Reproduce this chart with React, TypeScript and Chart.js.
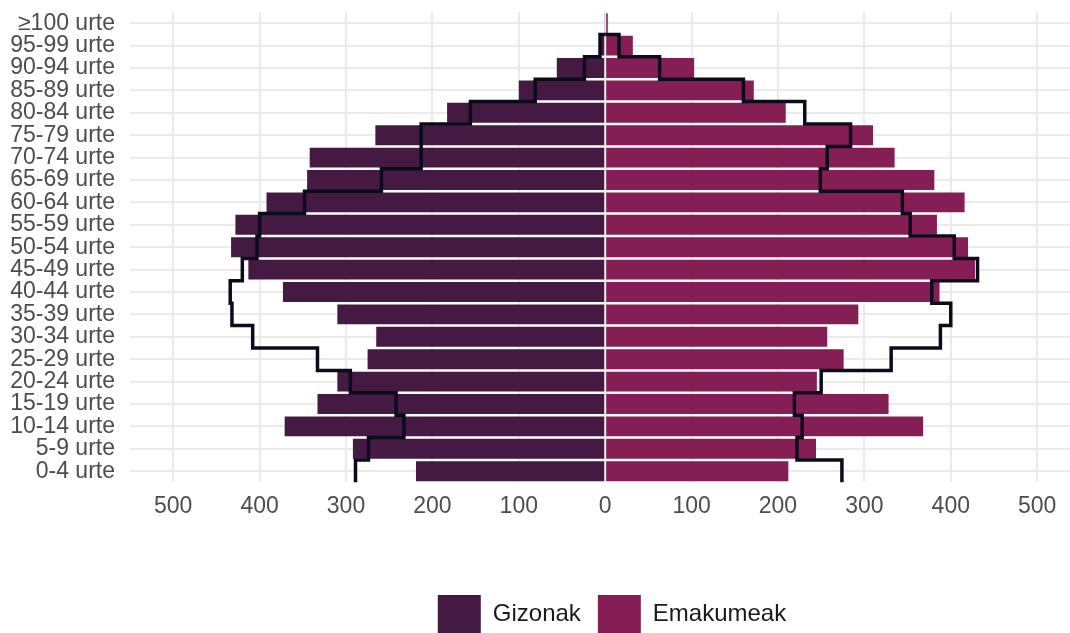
import React, { useEffect, useRef } from "react";
import { Chart, registerables } from "chart.js";

Chart.register(...registerables);

// Age groups, bottom to top
const ageGroups = [
  "0-4 urte", "5-9 urte", "10-14 urte", "15-19 urte", "20-24 urte",
  "25-29 urte", "30-34 urte", "35-39 urte", "40-44 urte", "45-49 urte",
  "50-54 urte", "55-59 urte", "60-64 urte", "65-69 urte", "70-74 urte",
  "75-79 urte", "80-84 urte", "85-89 urte", "90-94 urte", "95-99 urte",
  "≥100 urte",
];

// Current population (bars)
const men = [219, 292, 371, 333, 310, 275, 265, 310, 373, 413, 433, 428, 392, 345, 342, 266, 183, 100, 56, 7, 1];
const women = [212, 244, 368, 328, 245, 276, 257, 293, 387, 428, 420, 384, 416, 381, 335, 310, 209, 172, 103, 32, 3];

// Reference population (black step outline)
const menOutline: (number | null)[] = [289, 274, 233, 242, 295, 333, 408, 432, 434, 420, 403, 400, 348, 259, 213, 213, 156, 81, 24, 6, null];
const womenOutline: (number | null)[] = [274, 222, 228, 219, 250, 331, 388, 400, 378, 431, 404, 353, 344, 249, 257, 284, 231, 160, 63, 16, null];

// Axis ticks
const xTicks = [-500, -400, -300, -200, -100, 0, 100, 200, 300, 400, 500];

const MEN_COLOR = "#451a42";
const WOMEN_COLOR = "#861e56";
const OUTLINE_COLOR = "#0b0b1c";
const GRID_COLOR = "#ebebeb";
const TICK_COLOR = "#4d4d4d";
const FONT_FAMILY = "'Liberation Sans', Arial, sans-serif";

function stepPoints(values: (number | null)[], sign: number) {
  const pts: { x: number; y: number }[] = [];
  let last = -1;
  values.forEach((v, i) => {
    if (v == null) return;
    pts.push({ x: sign * v, y: i - 0.5 }, { x: sign * v, y: i + 0.5 });
    last = i;
  });
  if (last >= 0) pts.push({ x: 0, y: last + 0.5 });
  return pts;
}

const legendShift = {
  id: "legendShift",
  afterLayout(chart: any) {
    if (chart.legend) {
      chart.legend.left += 12;
      chart.legend.right += 12;
    }
  },
};

export default function App() {
  const ref = useRef<HTMLCanvasElement | null>(null);

  useEffect(() => {
    if (!ref.current) return;
    const outlineStyle = {
      borderColor: OUTLINE_COLOR,
      backgroundColor: OUTLINE_COLOR,
      borderWidth: 3.5,
      pointRadius: 0,
      pointHoverRadius: 0,
      fill: false,
      tension: 0,
      order: 0,
      borderJoinStyle: "miter" as const,
      borderCapStyle: "butt" as const,
    };
    const barStyle = {
      grouped: false,
      barPercentage: 0.89,
      categoryPercentage: 1,
      order: 1,
    };
    const chart = new Chart(ref.current, {
      type: "bar",
      data: {
        datasets: [
          {
            type: "bar",
            label: "Gizonak",
            data: men.map((v, i) => ({ x: -v, y: i })),
            backgroundColor: MEN_COLOR,
            ...barStyle,
          } as any,
          {
            type: "bar",
            label: "Emakumeak",
            data: women.map((v, i) => ({ x: v, y: i })),
            backgroundColor: WOMEN_COLOR,
            ...barStyle,
          } as any,
          {
            type: "line",
            label: "outline-men",
            data: stepPoints(menOutline, -1),
            ...outlineStyle,
          } as any,
          {
            type: "line",
            label: "outline-women",
            data: stepPoints(womenOutline, 1),
            ...outlineStyle,
          } as any,
        ],
      },
      options: {
        indexAxis: "y",
        animation: false,
        responsive: true,
        maintainAspectRatio: false,
        layout: { padding: { top: 12, left: 0, right: 0, bottom: -10 } },
        scales: {
          x: {
            type: "linear",
            min: -550,
            max: 538,
            offset: false,
            afterBuildTicks: (s: any) => {
              s.ticks = xTicks.map((v) => ({ value: v }));
            },
            afterFit: (s: any) => {
              s.height += 48;
            },
            ticks: {
              callback: (v: any) => String(Math.abs(Number(v))),
              color: TICK_COLOR,
              font: { family: FONT_FAMILY, size: 23 },
              padding: 10,
              maxRotation: 0,
            },
            grid: { color: GRID_COLOR, lineWidth: 2, drawTicks: false, offset: false },
            border: { display: false },
          },
          y: {
            type: "linear",
            min: -0.5,
            max: ageGroups.length - 0.5,
            offset: false,
            afterBuildTicks: (s: any) => {
              s.ticks = ageGroups.map((_, i) => ({ value: i }));
            },
            afterFit: (s: any) => {
              s.width = 130;
              s.paddingTop = 0;
              s.paddingBottom = 0;
            },
            ticks: {
              callback: (v: any) => ageGroups[Number(v)] ?? "",
              color: TICK_COLOR,
              font: { family: FONT_FAMILY, size: 23 },
              padding: 15,
              autoSkip: false,
            },
            grid: { color: GRID_COLOR, lineWidth: 2, drawTicks: false, offset: false },
            border: { display: false },
          },
        },
        plugins: {
          legend: {
            position: "bottom",
            fullSize: false,
            labels: {
              filter: (item: any) => item.datasetIndex < 2,
              boxWidth: 43,
              boxHeight: 38,
              color: "#1a1a1a",
              font: { family: FONT_FAMILY, size: 24 },
              padding: 17,
            },
          },
          tooltip: { enabled: false },
        },
      } as any,
      plugins: [legendShift],
    });
    return () => chart.destroy();
  }, []);

  return (
    <div style={{ position: "absolute", left: 0, top: 0, width: 1070, height: 633, background: "#fff" }}>
      <canvas ref={ref} />
    </div>
  );
}
